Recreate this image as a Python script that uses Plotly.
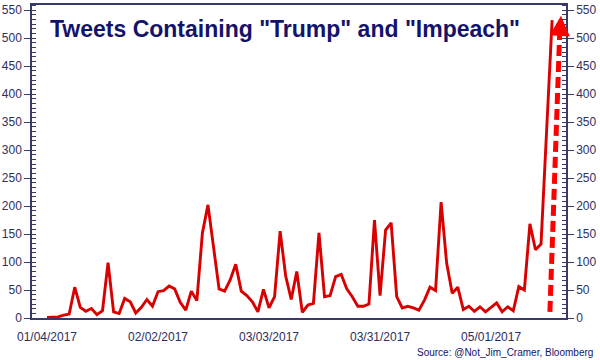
import pandas as pd
import plotly.graph_objects as go

# Trading days (NYSE holidays excluded) from 01/04/2017 to 05/16/2017
holidays = ["2017-01-16", "2017-02-20", "2017-04-14"]
dates = [d.strftime("%m/%d/%Y") for d in
         pd.bdate_range("2017-01-04", "2017-05-16", freq="C", holidays=holidays)]

tweets = [1, 1, 2, 5, 7, 55, 19, 12, 17, 6,
          13, 99, 11, 8, 35, 29, 9, 19, 33, 21,
          47, 49, 57, 52, 28, 14, 48, 31, 152, 202,
          125, 52, 48, 68, 96, 48, 40, 29, 11, 51,
          18, 38, 155, 75, 33, 83, 10, 23, 26, 152,
          38, 40, 74, 78, 52, 38, 21, 21, 25, 175,
          40, 157, 170, 38, 18, 21, 18, 14, 32, 55,
          49, 207, 98, 44, 55, 15, 21, 12, 20, 11,
          19, 27, 11, 20, 13, 56, 50, 168, 122, 132,
          333, 532]

tick_labels = ["01/04/2017", "02/02/2017", "03/03/2017", "03/31/2017", "05/01/2017"]
y_ticks = list(range(0, 551, 50))

title_text = 'Tweets Containing "Trump" and "Impeach"'
source_text = "Source: @Not_Jim_Cramer, Bloomberg"

AX = "#3a3a6a"
LBL = "#2e2e5e"
NAVY = "#13136c"
RED = "#d80000"

fig = go.Figure()
fig.add_trace(go.Scatter(x=dates, y=tweets, mode="lines",
                         line=dict(color=RED, width=2.9), hoverinfo="x+y",
                         showlegend=False))
fig.add_trace(go.Scatter(x=dates, y=tweets, mode="lines", yaxis="y2",
                         opacity=0, hoverinfo="skip", showlegend=False))

yaxis_common = dict(range=[0, 559], tickvals=y_ticks, ticks="outside", ticklen=6,
                    tickwidth=1, tickcolor=AX, showline=True, linecolor=AX, linewidth=1.5,
                    showgrid=False, zeroline=False, automargin=False,
                    tickfont=dict(family="Liberation Sans, Arial", size=12, color=LBL),
                    minor=dict(dtick=50 / 6, tick0=0, ticks="inside", ticklen=4,
                               tickcolor=AX, tickwidth=1))

n = len(dates)
fig.update_layout(
    width=600, height=360,
    margin=dict(l=32, r=34, t=5, b=42),
    paper_bgcolor="white", plot_bgcolor="white",
    xaxis=dict(type="category", range=[-2.7, n + 1.5], tickvals=tick_labels,
               ticktext=tick_labels, ticks="", showline=True, mirror=True,
               linecolor=AX, linewidth=1.5, showgrid=False, zeroline=False,
               automargin=False, ticklabelstandoff=7,
               tickfont=dict(family="Liberation Sans, Arial", size=12, color=LBL)),
    yaxis=dict(side="left", **yaxis_common),
    yaxis2=dict(side="right", overlaying="y", **yaxis_common),
    annotations=[
        dict(text="<b>" + title_text + "</b>", xref="paper", yref="paper", x=0.03, y=0.922,
             xanchor="left", yanchor="middle", showarrow=False,
             font=dict(family="Liberation Sans, Arial", size=23, color=NAVY)),
        dict(text=source_text, xref="paper", yref="paper", x=1.054, y=-0.109,
             xanchor="right", yanchor="middle", showarrow=False,
             font=dict(family="Liberation Sans, Arial", size=10, color=NAVY)),
        dict(x=n + 0.6, y=540, ax=n + 0.35, ay=500, xref="x", yref="y",
             axref="x", ayref="y", showarrow=True, arrowhead=2, arrowsize=0.9,
             arrowwidth=4.5, arrowcolor="#ff0000", text=""),
    ],
    shapes=[
        dict(type="line", xref="x", yref="y", x0=n - 1.4, y0=11, x1=n + 0.35, y1=505,
             line=dict(color="#ff0000", width=5, dash="11px,5px")),
    ],
)

fig.write_html("out.html", config={"displayModeBar": False},
               post_script="document.body.style.margin='0';document.body.style.overflow='hidden';")
